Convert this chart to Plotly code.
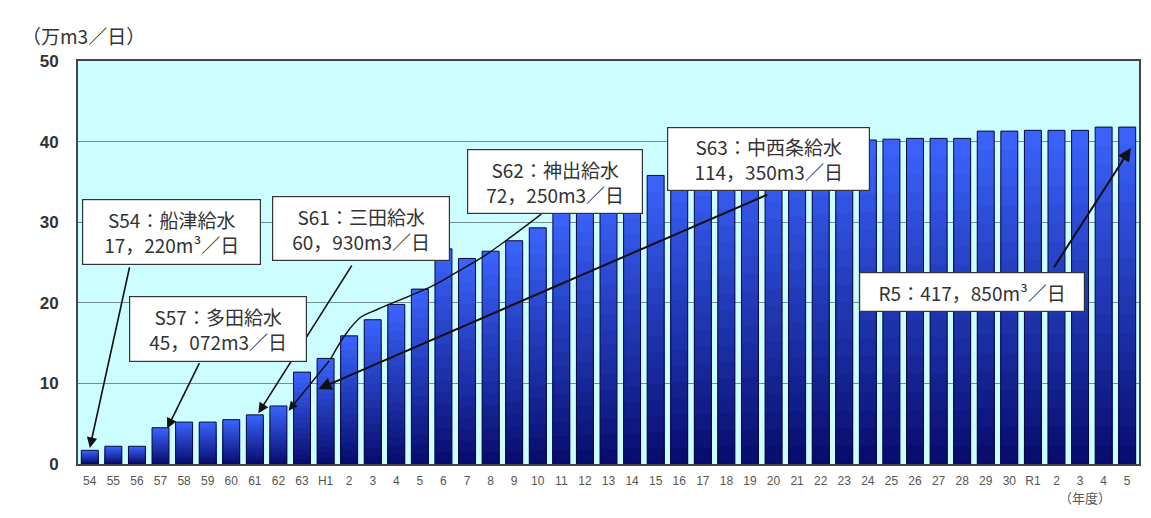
import plotly.graph_objects as go

# ---- data ----
years = ["54", "55", "56", "57", "58", "59", "60", "61", "62", "63",
         "H1", "2", "3", "4", "5", "6", "7", "8", "9", "10",
         "11", "12", "13", "14", "15", "16", "17", "18", "19", "20",
         "21", "22", "23", "24", "25", "26", "27", "28", "29", "30",
         "R1", "2", "3", "4", "5"]
supply = [1.7, 2.2, 2.2, 4.5, 5.2, 5.2, 5.5, 6.1, 7.2, 11.4,
          13.1, 15.9, 17.9, 19.8, 21.7, 26.7, 25.5, 26.4, 27.7, 29.3,
          31.2, 32.4, 33.4, 34.4, 35.8, 36.6, 37.4, 38.0, 38.6, 39.1,
          39.5, 39.8, 40.0, 40.2, 40.3, 40.4, 40.4, 40.4, 41.3, 41.3,
          41.4, 41.4, 41.4, 41.8, 41.8]
y_ticks = [0, 10, 20, 30, 40, 50]

# callout boxes: (text, box centre x index, box centre y, width, height)
callouts = [
    ("S54：船津給水<br>17，220m³／日", 3.45, 28.8, 171, 58),
    ("S57：多田給水<br>45，072m3／日", 5.45, 16.7, 170, 58),
    ("S61：三田給水<br>60，930m3／日", 11.5, 29.2, 170, 57),
    ("S62：神出給水<br>72，250m3／日", 19.75, 35.1, 168, 57),
    ("S63：中西条給水<br>114，350m3／日", 28.8, 37.8, 195, 56),
    ("R5：417，850m³／日", 37.4, 21.3, 218, 32),
]
# straight arrows: (tail x, tail y, head x, head y, width)
arrows = [
    (1.70, 24.6, 0.0, 2.0, 1.6),
    (4.68, 12.7, 3.28, 4.4, 1.6),
    (11.15, 24.8, 7.15, 6.3, 1.6),
    (28.8, 33.5, 9.70, 9.3, 2.0),
    (40.85, 24.2, 44.15, 39.2, 2.0),
]
# curved connector of the S62 callout (x index, y)
s62_path_x = [19.15, 17.74, 16.72, 15.62, 14.47, 12.21, 11.49, 10.85, 10.21]
s62_path_y = [31.0, 27.9, 25.8, 23.9, 22.0, 19.2, 18.2, 16.1, 13.0]
s62_head = (8.43, 6.6)

xs = list(range(len(years)))
fig = go.Figure()

# gradient bars (bright top -> navy bottom)
N_BANDS = 18
top_rgb = (0x3a, 0x62, 0xfa)
bot_rgb = (0x08, 0x0e, 0x70)
BAR_W = 0.72
for k in range(N_BANDS):
    frac = 1 - k / N_BANDS
    t = k / (N_BANDS - 1)
    c = tuple(round(top_rgb[i] + (bot_rgb[i] - top_rgb[i]) * t) for i in range(3))
    fig.add_bar(x=xs, y=[v * frac for v in supply], width=BAR_W,
                marker=dict(color="rgb(%d,%d,%d)" % c, line=dict(width=0)),
                hoverinfo="skip")
# outline
fig.add_bar(x=xs, y=supply, width=BAR_W,
            marker=dict(color="rgba(0,0,0,0)", line=dict(color="#0a0a3a", width=1)),
            hovertemplate="%{y}<extra></extra>")

# S62 curved connector
fig.add_scatter(x=s62_path_x, y=s62_path_y, mode="lines",
                line=dict(color="#111", width=1.4, shape="spline"),
                hoverinfo="skip")

annotations = []
for tx, ty, hx, hy, w in arrows:
    annotations.append(dict(x=hx, y=hy, ax=tx, ay=ty, xref="x", yref="y",
                            axref="x", ayref="y", text="", showarrow=True,
                            arrowhead=2, arrowsize=1.3, arrowwidth=w,
                            arrowcolor="#111"))
annotations.append(dict(x=s62_head[0], y=s62_head[1], ax=s62_path_x[-1], ay=s62_path_y[-1],
                        xref="x", yref="y", axref="x", ayref="y", text="",
                        showarrow=True, arrowhead=2, arrowsize=1.3,
                        arrowwidth=1.4, arrowcolor="#111"))
for text, cx, cy, w, h in callouts:
    annotations.append(dict(x=cx, y=cy, xref="x", yref="y", text=text,
                            showarrow=False, bgcolor="white", bordercolor="#333",
                            borderwidth=1.2, borderpad=3, width=w, height=h,
                            align="center",
                            font=dict(family="Noto Sans CJK JP", size=19, color="#333")))

# page body has an 8px default margin: size the figure so the plot lands
# at x 78..1139, y 61..464 of the 1151x518 window
OFF = 8
W, H = 1151 - OFF, 518 - 2 * OFF
L, R, T = 78 - OFF, 12, 61 - OFF
B = OFF + H - 464
pw, ph = W - L - R, H - T - B


def px_to_paper(px, py):
    return (px - OFF - L) / pw, (OFF + T + ph - py) / ph


ux, uy = px_to_paper(20, 35)
annotations.append(dict(x=ux, y=uy, xref="paper", yref="paper",
                        text="（万m3／日）", showarrow=False, xanchor="left", yanchor="middle",
                        font=dict(family="Noto Sans CJK JP", size=19, color="#333")))
nx, ny = px_to_paper(1085, 498)
annotations.append(dict(x=nx, y=ny, xref="paper", yref="paper",
                        text="（年度）", showarrow=False, xanchor="center", yanchor="middle",
                        font=dict(family="Noto Sans CJK JP", size=13, color="#555")))

fig.update_layout(
    width=W, height=H, margin=dict(l=L, r=R, t=T, b=B),
    barmode="overlay", showlegend=False,
    plot_bgcolor="#ccfdff", paper_bgcolor="white",
    annotations=annotations,
    xaxis=dict(range=[-0.5, len(years) - 0.5], tickvals=xs, ticktext=years,
               tickfont=dict(family="Liberation Sans Narrow, Liberation Sans", size=12, color="#555"),
               showgrid=False, zeroline=False, showline=True, linecolor="#444",
               linewidth=2, mirror=True, ticks="", ticklabelstandoff=5,
               automargin=False),
    yaxis=dict(range=[0, 50], tickvals=y_ticks, showgrid=True, gridcolor="#6f8e8e",
               gridwidth=1, zeroline=False, showline=True, linecolor="#444",
               linewidth=2, mirror=True, ticks="",
               tickfont=dict(family="Liberation Sans", size=17, color="#333", weight="bold"),
               ticklabelstandoff=14, automargin=False),
)

fig.write_html("out.html")
